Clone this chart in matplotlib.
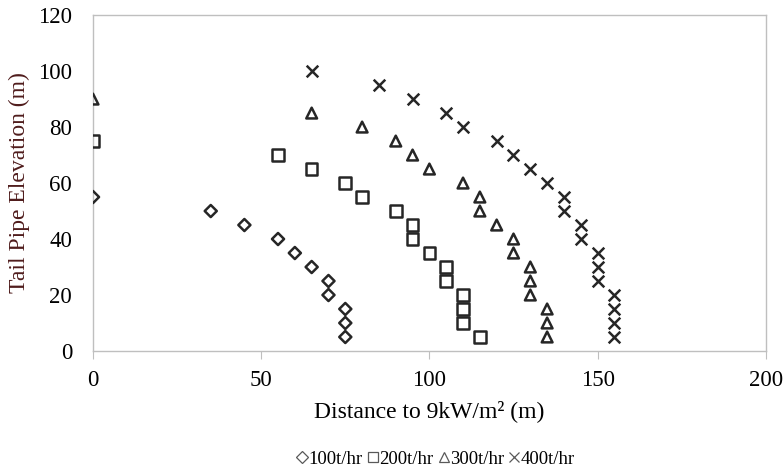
import matplotlib
matplotlib.use("Agg")
import matplotlib.pyplot as plt
from matplotlib.lines import Line2D

x100 = [0, 35, 45, 55, 60, 65, 70, 70, 75, 75, 75]
y100 = [55, 50, 45, 40, 35, 30, 25, 20, 15, 10, 5]
x200 = [0, 55, 65, 75, 80, 90, 95, 95, 100, 105, 105, 110, 110, 110, 115]
y200 = [75, 70, 65, 60, 55, 50, 45, 40, 35, 30, 25, 20, 15, 10, 5]
x300 = [0, 65, 80, 90, 95, 100, 110, 115, 115, 120, 125, 125, 130, 130, 130, 135, 135, 135]
y300 = [90, 85, 80, 75, 70, 65, 60, 55, 50, 45, 40, 35, 30, 25, 20, 15, 10, 5]
x400 = [65, 85, 95, 105, 110, 120, 125, 130, 135, 140, 140, 145, 145, 150, 150, 150, 155, 155, 155, 155]
y400 = [100, 95, 90, 85, 80, 75, 70, 65, 60, 55, 50, 45, 40, 35, 30, 25, 20, 15, 10, 5]
labels = ["100t/hr", "200t/hr", "300t/hr", "400t/hr"]
xticks = [0, 50, 100, 150, 200]
yticks = [0, 20, 40, 60, 80, 100, 120]

plt.rcParams['font.family'] = ['Liberation Serif', 'DejaVu Serif']

fig = plt.figure(figsize=(7.83, 4.72), dpi=100)
ax = fig.add_axes([0.1188, 0.2564, 0.8592, 0.7116])

mc = '#262626'
ax.scatter(x100, y100, marker='D', s=38, facecolors='none', edgecolors=mc, linewidths=1.8, zorder=3)
ax.scatter(x200, y200, marker='s', s=70, facecolors='none', edgecolors=mc, linewidths=1.8, zorder=3)
ax.scatter(x300, y300, marker='^', s=60, facecolors='none', edgecolors=mc, linewidths=1.8, zorder=3)
ax.scatter(x400, y400, marker='x', s=70, color=mc, linewidths=1.8, zorder=3)

ax.set_xlim(0, 200)
ax.set_ylim(0, 120)
ax.set_xticks(xticks)
ax.set_yticks(yticks)
for s in ax.spines.values():
    s.set_color('#bfbfbf')
    s.set_linewidth(1.0)
ax.tick_params(axis='x', direction='out', length=6, color='#bfbfbf', labelsize=16.5, pad=8)
ax.tick_params(axis='y', length=0, labelsize=16.5, pad=15)

ax.set_xlabel('Distance to 9kW/m² (m)', fontsize=17, labelpad=6)
ax.set_ylabel('Tail Pipe Elevation (m)', fontsize=17, color='#4f1c1c', labelpad=6)

lc = '#595959'
handles = [
    Line2D([], [], ls='none', marker='D', markersize=6, markerfacecolor='none', markeredgecolor=lc, markeredgewidth=0.9),
    Line2D([], [], ls='none', marker='s', markersize=7.5, markerfacecolor='none', markeredgecolor=lc, markeredgewidth=0.9),
    Line2D([], [], ls='none', marker='^', markersize=7.5, markerfacecolor='none', markeredgecolor=lc, markeredgewidth=0.9),
    Line2D([], [], ls='none', marker='x', markersize=7.5, color=lc, markeredgewidth=0.9),
]
fig.legend(handles, labels, loc='center', bbox_to_anchor=(0.557, 0.027), ncol=4, frameon=False,
           fontsize=13.5, handlelength=0.5, handletextpad=0.08, columnspacing=0.3)

fig.savefig('out.png', dpi=100)
